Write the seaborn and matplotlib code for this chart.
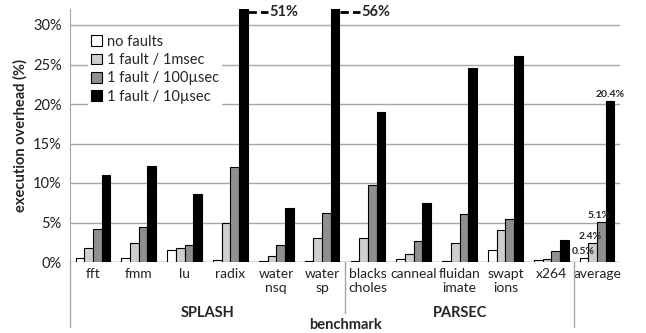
"""Execution overhead per benchmark under injected fault rates."""

import matplotlib
matplotlib.use("Agg")
import matplotlib.pyplot as plt
import matplotlib.transforms as mtransforms
import numpy as np
import pandas as pd
import seaborn as sns


# ---------------------------------------------------------------------------
# Data
# ---------------------------------------------------------------------------

benchmarks = ["fft", "fmm", "lu", "radix", "water\nnsq", "water\nsp",
              "blacks\ncholes", "canneal", "fluidan\nimate", "swapt\nions",
              "x264", "average"]
configs = ["no faults", "1 fault / 1msec", "1 fault / 100µsec", "1 fault / 10µsec"]

no_faults = [0.55, 0.5, 1.5, 0.2, 0.15, 0.1, 0.1, 0.35, 0.15, 1.5, 0.2, 0.5]
fault_1ms = [1.8, 2.4, 1.8, 5.0, 0.7, 3.0, 3.1, 1.0, 2.4, 4.0, 0.4, 2.4]
fault_100us = [4.2, 4.4, 2.1, 12.0, 2.2, 6.2, 9.7, 2.6, 6.1, 5.4, 1.35, 5.1]
fault_10us = [11.0, 12.2, 8.6, 51.0, 6.8, 56.0, 19.0, 7.5, 24.6, 26.1, 2.8, 20.4]

groups = ["SPLASH", "PARSEC"]
group_spans = [(0, 5), (6, 10)]

colors = ["#ffffff", "#cfcfcf", "#8f8f8f", "#000000"]

YMAX = 32

# ---------------------------------------------------------------------------
# Plot
# ---------------------------------------------------------------------------

sns.set_style("white")
plt.rcParams["font.family"] = ["Lato", "DejaVu Sans"]

df = pd.DataFrame({
    "benchmark": np.repeat(benchmarks, len(configs)),
    "config": configs * len(benchmarks),
    "overhead": np.column_stack([no_faults, fault_1ms, fault_100us, fault_10us]).ravel(),
})

fig = plt.figure(figsize=(6.46, 3.33), dpi=100)
ax = fig.add_axes([70 / 646, 1 - 262 / 333, 550 / 646, 252.8 / 333])

sns.barplot(data=df, x="benchmark", y="overhead", hue="config",
            hue_order=configs, palette=colors, order=benchmarks,
            width=0.76, edgecolor="black", linewidth=0.8, ax=ax)

ax.set_ylim(0, YMAX)
ax.set_xlim(-0.5, len(benchmarks) - 0.5)
ax.set_yticks(np.arange(0, 31, 5))
ax.set_yticklabels([f"{v}%" for v in range(0, 31, 5)], fontsize=10.5, color="#222222")
ax.tick_params(axis="x", labelsize=10, length=0, pad=4, labelcolor="#222222")
ax.tick_params(axis="y", length=0, pad=6)
ax.yaxis.grid(True, color="#a6a6a6", linewidth=1.0)
ax.set_axisbelow(True)
for side in ("top", "right", "bottom"):
    ax.spines[side].set_visible(False)
ax.spines["left"].set_color("#a6a6a6")
ax.axhline(0, color="#a6a6a6", linewidth=1.0, zorder=0.5)

ax.set_ylabel("execution overhead (%)", fontsize=10.5, fontweight="bold", labelpad=4)
ax.set_xlabel("benchmark", fontsize=10.5, fontweight="bold")
ax.xaxis.set_label_coords(0.5, -0.25)
ax.xaxis.label.set_va("center")

# Clipped bars: dashed lead line + real value
bars_10us = ax.containers[3]
for i, rect in enumerate(bars_10us):
    val = fault_10us[i]
    if val > YMAX:
        x0 = rect.get_x() + rect.get_width()
        y0 = YMAX - 0.35
        ax.plot([x0, x0 + 0.45], [y0, y0], color="black", linestyle=(0, (3, 1.5)),
                linewidth=2, clip_on=False)
        ax.text(x0 + 0.47, y0, f"{val:.0f}%", fontsize=10.5, fontweight="bold",
                ha="left", va="center")

# Value labels over the average group
avg = len(benchmarks) - 1
for k, cont in enumerate(ax.containers):
    rect = cont[avg]
    val = [no_faults, fault_1ms, fault_100us, fault_10us][k][avg]
    dx = [-0.02, -0.05, -0.05, 0.0][k]
    ax.text(rect.get_x() + rect.get_width() / 2 + dx, rect.get_height() + 0.25,
            f"{val}%", fontsize=7.5, fontweight="bold", ha="center", va="bottom")

# Group labels and separators below the axis
trans = mtransforms.blended_transform_factory(ax.transData, ax.transAxes)
for name, (a, b) in zip(groups, group_spans):
    ax.text((a + b) / 2, -0.2, name, transform=trans, fontsize=10.5,
            fontweight="bold", ha="center", va="center")
for x, ybot in [(-0.5, -0.258), (5.5, -0.2), (10.5, -0.258)]:
    ax.plot([x, x], [0, ybot], transform=trans, color="#a6a6a6",
            linewidth=1.0, clip_on=False)

leg = ax.legend(loc="upper left", bbox_to_anchor=(0.02, 0.94), fontsize=10.5,
                frameon=True, framealpha=1, edgecolor="white", fancybox=False,
                handlelength=0.75, handleheight=0.75, handletextpad=0.3,
                labelspacing=0.3, borderpad=0.2, title=None)
leg.get_frame().set_linewidth(0)

fig.savefig("out.png", dpi=100)
